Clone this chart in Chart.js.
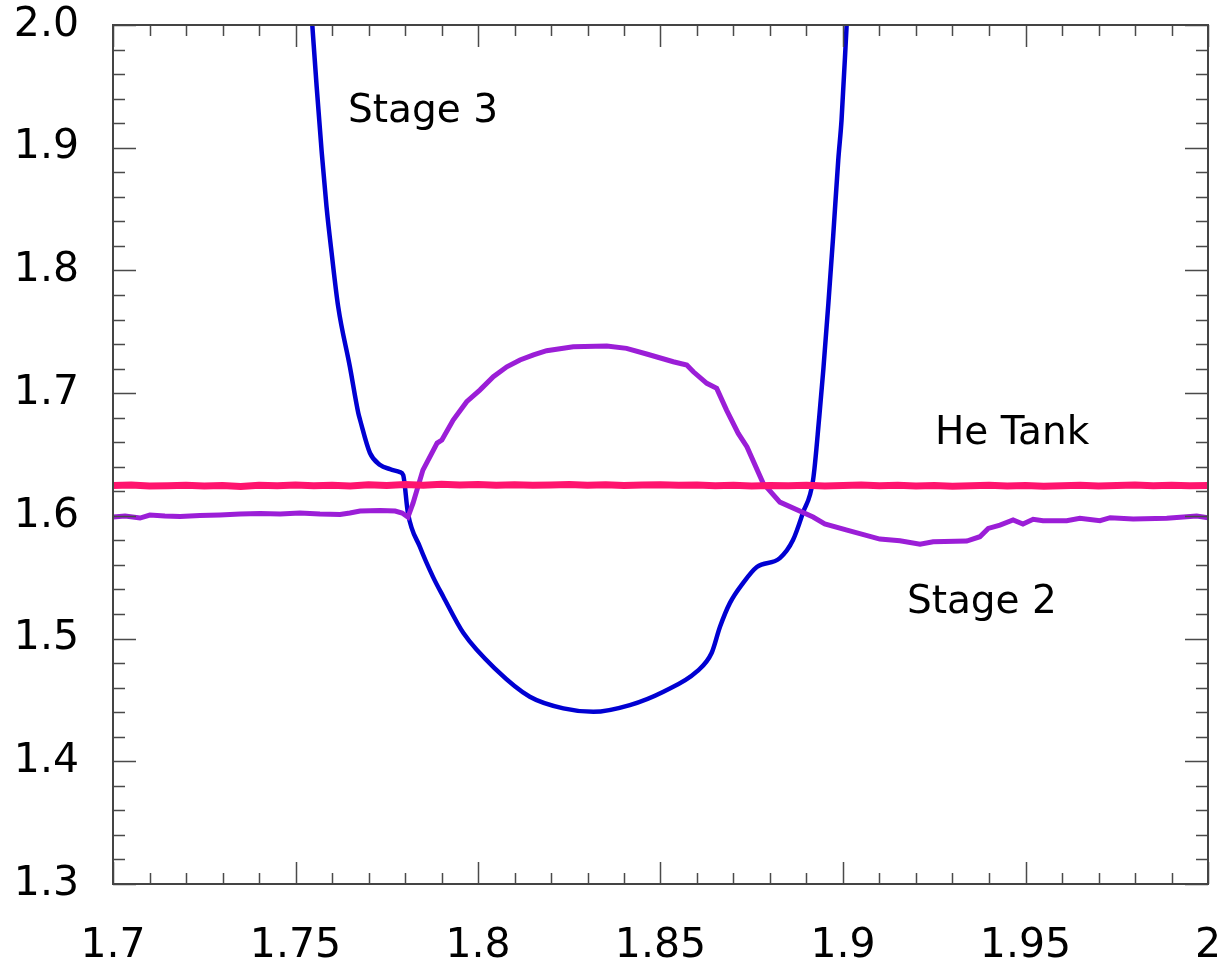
<!DOCTYPE html>
<html>
<head>
<meta charset="utf-8">
<script src="https://cdn.jsdelivr.net/npm/chart.js@4.4.1/dist/chart.umd.min.js"></script>
<style>
  html, body { margin: 0; padding: 0; background: #fff; }
  #wrap { width: 1226px; height: 966px; }
</style>
</head>
<body>
<div id="wrap"><canvas id="c" width="1226" height="966"></canvas></div>
<script>
// Axis ranges and tick labels
const xTickValues = [1.7, 1.75, 1.8, 1.85, 1.9, 1.95, 2.0];
const xTickLabels = ['1.7', '1.75', '1.8', '1.85', '1.9', '1.95', '2'];
const yTickValues = [1.3, 1.4, 1.5, 1.6, 1.7, 1.8, 1.9, 2.0];
const yTickLabels = ['1.3', '1.4', '1.5', '1.6', '1.7', '1.8', '1.9', '2.0'];

// Stage 3 trace
const stage3X = [1.7546, 1.7558, 1.7572, 1.7585, 1.7599, 1.7617, 1.7649, 1.7672, 1.7677, 1.7704,
  1.7732, 1.7759, 1.7786, 1.7795, 1.7808, 1.7841, 1.7877, 1.7905, 1.7960, 1.8051,
  1.8142, 1.8234, 1.8316, 1.8416, 1.8508, 1.8599, 1.8640, 1.8663, 1.8690, 1.8726,
  1.8764, 1.8827, 1.8863, 1.8890, 1.8918, 1.8935, 1.8946, 1.8960, 1.8973, 1.8987,
  1.8996, 1.9010];
const stage3Y = [2.0000, 1.9497, 1.8957, 1.8519, 1.8142, 1.7704, 1.7215, 1.6838, 1.6781, 1.6512,
  1.6414, 1.6381, 1.6357, 1.6333, 1.6023, 1.5746, 1.5501, 1.5341, 1.5045, 1.4743,
  1.4526, 1.4431, 1.4403, 1.4458, 1.4567, 1.4730, 1.4882, 1.5096, 1.5289, 1.5452,
  1.5583, 1.5656, 1.5803, 1.6023, 1.6292, 1.6808, 1.7188, 1.7734, 1.8275, 1.8900,
  1.9226, 2.0000];

// Stage 2 trace
const stage2X = [1.7000, 1.7033, 1.7074, 1.7101, 1.7142, 1.7184, 1.7238, 1.7293, 1.7348, 1.7403,
  1.7458, 1.7512, 1.7567, 1.7622, 1.7649, 1.7677, 1.7732, 1.7773, 1.7792, 1.7808,
  1.7822, 1.7849, 1.7888, 1.7901, 1.7932, 1.7969, 1.8005, 1.8042, 1.8079, 1.8115,
  1.8152, 1.8188, 1.8261, 1.8353, 1.8407, 1.8462, 1.8535, 1.8572, 1.8590, 1.8627,
  1.8654, 1.8681, 1.8713, 1.8737, 1.8781, 1.8827, 1.8918, 1.8950, 1.9011, 1.9101,
  1.9156, 1.9211, 1.9247, 1.9339, 1.9375, 1.9398, 1.9430, 1.9466, 1.9493, 1.9521,
  1.9548, 1.9613, 1.9649, 1.9704, 1.9732, 1.9795, 1.9887, 1.9969, 2.0000];
const stage2Y = [1.5990, 1.5998, 1.5982, 1.6007, 1.5998, 1.5994, 1.6002, 1.6007, 1.6015, 1.6019,
  1.6015, 1.6023, 1.6015, 1.6011, 1.6023, 1.6039, 1.6043, 1.6039, 1.6023, 1.5990,
  1.6104, 1.6373, 1.6593, 1.6618, 1.6781, 1.6930, 1.7025, 1.7134, 1.7215, 1.7270,
  1.7311, 1.7346, 1.7378, 1.7384, 1.7365, 1.7319, 1.7256, 1.7229, 1.7174, 1.7080,
  1.7039, 1.6862, 1.6672, 1.6561, 1.6267, 1.6112, 1.5990, 1.5935, 1.5884, 1.5811,
  1.5797, 1.5768, 1.5789, 1.5795, 1.5830, 1.5898, 1.5925, 1.5966, 1.5933, 1.5972,
  1.5960, 1.5960, 1.5980, 1.5960, 1.5985, 1.5974, 1.5980, 1.5998, 1.5985];

// He tank trace
const heTankX = [1.700, 1.705, 1.710, 1.715, 1.720, 1.725, 1.730, 1.735, 1.740, 1.745,
  1.750, 1.755, 1.760, 1.765, 1.770, 1.775, 1.780, 1.785, 1.790, 1.795,
  1.800, 1.805, 1.810, 1.815, 1.820, 1.825, 1.830, 1.835, 1.840, 1.845,
  1.850, 1.855, 1.860, 1.865, 1.870, 1.875, 1.880, 1.885, 1.890, 1.895,
  1.900, 1.905, 1.910, 1.915, 1.920, 1.925, 1.930, 1.935, 1.940, 1.945,
  1.950, 1.955, 1.960, 1.965, 1.970, 1.975, 1.980, 1.985, 1.990, 1.995, 2.000];
const heTankY = [1.6248, 1.6252, 1.6244, 1.6246, 1.6250, 1.6243, 1.6247, 1.6240, 1.6249, 1.6245,
  1.6252, 1.6246, 1.6250, 1.6244, 1.6253, 1.6248, 1.6255, 1.6250, 1.6257, 1.6252,
  1.6256, 1.6250, 1.6254, 1.6249, 1.6252, 1.6255, 1.6250, 1.6253, 1.6248, 1.6251,
  1.6254, 1.6249, 1.6252, 1.6246, 1.6250, 1.6244, 1.6248, 1.6245, 1.6250, 1.6243,
  1.6247, 1.6252, 1.6245, 1.6249, 1.6244, 1.6248, 1.6242, 1.6246, 1.6250, 1.6244,
  1.6247, 1.6241, 1.6245, 1.6249, 1.6243, 1.6247, 1.6252, 1.6246, 1.6250, 1.6245, 1.6248];

// Curve labels placed in data coordinates (left edge, text baseline)
const curveLabels = [
  { text: 'Stage 3', x: 1.7644, y: 1.9212 },
  { text: 'He Tank', x: 1.9252, y: 1.6585 },
  { text: 'Stage 2', x: 1.9175, y: 1.5208 }
];

const toPoints = (xs, ys) => xs.map((x, i) => ({ x, y: ys[i] }));

// Frame with inward-pointing major/minor ticks on all four sides
const frameTicks = {
  id: 'frameTicks',
  afterDatasetsDraw(chart) {
    const { ctx, chartArea: a, scales: { x, y } } = chart;
    ctx.save();
    ctx.strokeStyle = '#4a4a4a';
    ctx.lineWidth = 1.5;
    for (let i = 0; i <= 30; i++) {
      const px = Math.round(x.getPixelForValue(1.7 + i * 0.01)) + 0.5;
      const len = (i % 5 === 0) ? 22 : 11;
      ctx.beginPath();
      ctx.moveTo(px, a.bottom); ctx.lineTo(px, a.bottom - len);
      ctx.moveTo(px, a.top); ctx.lineTo(px, a.top + len);
      ctx.stroke();
    }
    for (let i = 0; i <= 35; i++) {
      const py = Math.round(y.getPixelForValue(1.3 + i * 0.02)) + 0.5;
      const len = (i % 5 === 0) ? 23 : 12;
      ctx.beginPath();
      ctx.moveTo(a.left, py); ctx.lineTo(a.left + len, py);
      ctx.moveTo(a.right, py); ctx.lineTo(a.right - len, py);
      ctx.stroke();
    }
    ctx.lineWidth = 2;
    ctx.strokeStyle = '#444';
    ctx.strokeRect(a.left, a.top, a.right - a.left, a.bottom - a.top);

    ctx.fillStyle = '#000';
    ctx.font = '39px "DejaVu Sans"';
    ctx.textBaseline = 'alphabetic';
    ctx.textAlign = 'left';
    curveLabels.forEach(l => {
      ctx.fillText(l.text, x.getPixelForValue(l.x), y.getPixelForValue(l.y));
    });
    ctx.restore();
  }
};

const tickFont = { family: '"DejaVu Sans"', size: 41 };

new Chart(document.getElementById('c'), {
  type: 'line',
  data: {
    datasets: [
      { label: 'He Tank', data: toPoints(heTankX, heTankY), borderColor: 'rgb(255,20,110)',
        borderWidth: 7, pointRadius: 0, tension: 0, order: 0 },
      { label: 'Stage 2', data: toPoints(stage2X, stage2Y), borderColor: 'rgb(155,30,215)',
        borderWidth: 5, pointRadius: 0, tension: 0, order: 1 },
      { label: 'Stage 3', data: toPoints(stage3X, stage3Y), borderColor: 'rgb(0,0,210)',
        borderWidth: 4.5, pointRadius: 0, cubicInterpolationMode: 'monotone', order: 2 }
    ]
  },
  options: {
    responsive: false,
    animation: false,
    devicePixelRatio: 1,
    layout: { padding: { top: 25, right: 18, left: 0, bottom: 0 } },
    plugins: { legend: { display: false }, tooltip: { enabled: false } },
    scales: {
      x: {
        type: 'linear', min: 1.7, max: 2.0,
        afterBuildTicks(s) { s.ticks = xTickValues.map(v => ({ value: v })); },
        afterFit(s) { s.height = 82; s.paddingLeft = 0; s.paddingRight = 0; },
        grid: { display: false, drawTicks: false },
        border: { display: false },
        ticks: {
          font: tickFont, color: '#000', padding: 38, maxRotation: 0, autoSkip: false,
          callback: (v, i) => xTickLabels[i]
        }
      },
      y: {
        type: 'linear', min: 1.3, max: 2.0,
        afterBuildTicks(s) { s.ticks = yTickValues.map(v => ({ value: v })); },
        afterFit(s) { s.width = 113; s.paddingTop = 0; s.paddingBottom = 0; },
        grid: { display: false, drawTicks: false },
        border: { display: false },
        ticks: {
          font: tickFont, color: '#000', padding: 34, autoSkip: false,
          callback: (v, i) => yTickLabels[i]
        }
      }
    }
  },
  plugins: [frameTicks]
});
</script>
</body>
</html>
